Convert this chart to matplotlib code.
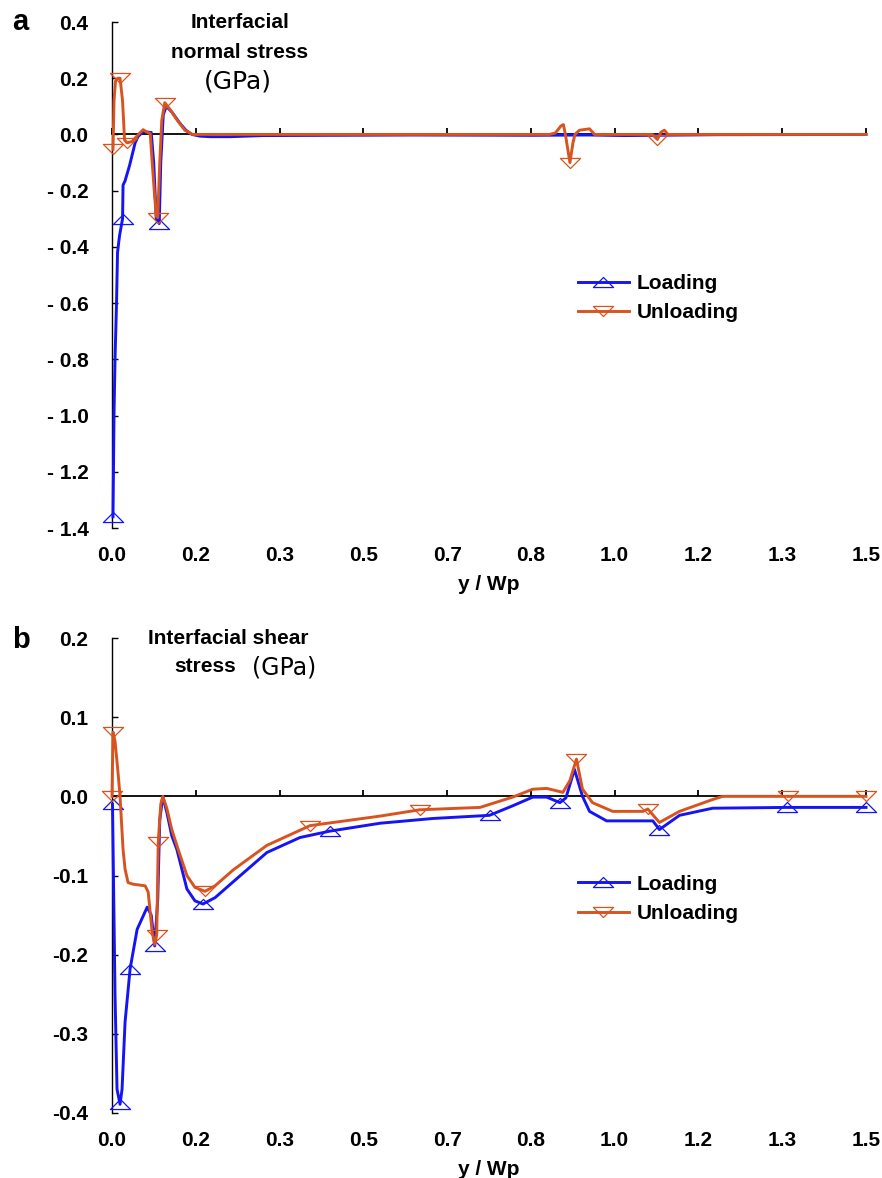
import numpy as np
import matplotlib
matplotlib.use('agg')
import matplotlib.pyplot as plt
from matplotlib.path import Path

plt.rcParams['font.family'] = ['Liberation Sans', 'DejaVu Sans']
plt.rcParams['font.weight'] = 'bold'

# ---- panel a: interfacial normal stress (GPa) ----
load_a_x = [0.002, 0.003, 0.004, 0.006, 0.009, 0.011, 0.015, 0.021, 0.022, 0.026,
            0.035, 0.046, 0.052, 0.062, 0.078, 0.083, 0.088, 0.094, 0.097, 0.102,
            0.108, 0.119, 0.135, 0.147, 0.159, 0.175, 0.195, 0.235, 0.30, 0.45,
            0.60, 0.84, 0.95, 1.02, 1.2, 1.5]
load_a_y = [-1.36, -1.18, -1.0, -0.8, -0.6, -0.42, -0.36, -0.30, -0.18, -0.165,
            -0.11, -0.03, -0.007, 0.01, 0.007, -0.1, -0.3, -0.317, -0.1, 0.07,
            0.1, 0.08, 0.04, 0.015, 0.0, -0.006, -0.008, -0.008, -0.004, -0.003,
            -0.002, -0.003, -0.002, -0.004, -0.001, 0.0]
load_a_marks = [0.002, 0.021, 0.094]

unload_a_x = [0.002, 0.004, 0.007, 0.012, 0.016, 0.021, 0.025, 0.030, 0.040, 0.050,
              0.058, 0.062, 0.068, 0.076, 0.080, 0.084, 0.088, 0.091, 0.095, 0.099,
              0.105, 0.115, 0.130, 0.145, 0.160, 0.40, 0.87, 0.882, 0.893, 0.898,
              0.902, 0.911, 0.917, 0.921, 0.930, 0.950, 0.960, 1.075, 1.085, 1.092,
              1.099, 1.106, 1.5]
unload_a_y = [-0.053, 0.12, 0.19, 0.2, 0.2, 0.12, -0.02, -0.03, -0.025, -0.005,
              0.01, 0.017, 0.01, 0.003, -0.1, -0.2, -0.29, -0.296, -0.1, 0.05,
              0.113, 0.09, 0.05, 0.015, 0.0, 0.0, 0.0, 0.005, 0.03, 0.035,
              0.0, -0.1, -0.03, 0.0, 0.015, 0.02, 0.0, 0.0, -0.018, 0.008,
              0.015, 0.0, 0.0]
unload_a_marks = [0.002, 0.016, 0.030, 0.091, 0.105, 0.911, 1.085]

# ---- panel b: interfacial shear stress (GPa) ----
load_b_x = [0.001, 0.006, 0.010, 0.016, 0.020, 0.026, 0.036, 0.050, 0.070, 0.078,
            0.085, 0.091, 0.095, 0.101, 0.109, 0.119, 0.129, 0.149, 0.165, 0.181,
            0.205, 0.241, 0.308, 0.374, 0.433, 0.533, 0.638, 0.751, 0.797, 0.837,
            0.865, 0.891, 0.903, 0.920, 0.936, 0.950, 0.984, 1.076, 1.089, 1.129,
            1.195, 1.342, 1.5]
load_b_y = [-0.010, -0.25, -0.37, -0.389, -0.37, -0.285, -0.218, -0.168, -0.140, -0.150,
            -0.189, -0.13, -0.03, 0.0, -0.02, -0.05, -0.067, -0.117, -0.132, -0.136,
            -0.128, -0.108, -0.071, -0.052, -0.044, -0.034, -0.028, -0.024, -0.012, -0.001,
            -0.001, -0.008, -0.002, 0.034, 0.0, -0.019, -0.031, -0.031, -0.042, -0.024,
            -0.015, -0.014, -0.014]
load_b_marks = [0.001, 0.016, 0.036, 0.085, 0.181, 0.433, 0.751, 0.891, 1.089, 1.342, 1.5]

unload_b_x = [0.000, 0.002, 0.006, 0.012, 0.016, 0.022, 0.026, 0.032, 0.042, 0.066,
              0.072, 0.080, 0.085, 0.089, 0.092, 0.097, 0.101, 0.109, 0.119, 0.129,
              0.149, 0.165, 0.185, 0.205, 0.241, 0.308, 0.394, 0.533, 0.612, 0.732,
              0.797, 0.837, 0.865, 0.897, 0.911, 0.924, 0.936, 0.956, 0.996, 1.056,
              1.066, 1.089, 1.129, 1.195, 1.215, 1.344, 1.5]
unload_b_y = [0.0, 0.081, 0.07, 0.03, 0.0, -0.067, -0.092, -0.109, -0.111, -0.113,
              -0.121, -0.172, -0.187, -0.175, -0.058, -0.01, 0.0, -0.015, -0.042, -0.062,
              -0.1, -0.115, -0.12, -0.113, -0.093, -0.062, -0.037, -0.025, -0.017, -0.014,
              -0.001, 0.009, 0.010, 0.005, 0.02, 0.047, 0.009, -0.008, -0.019, -0.019,
              -0.016, -0.033, -0.019, -0.004, 0.0, 0.0, 0.0]
unload_b_marks = [0.000, 0.002, 0.089, 0.092, 0.185, 0.394, 0.612, 0.924, 1.066, 1.344, 1.5]

x_ticks = np.linspace(0, 1.5, 10)
x_ticklabels = ['0.0', '0.2', '0.3', '0.5', '0.7', '0.8', '1.0', '1.2', '1.3', '1.5']
a_yticks = [0.4, 0.2, 0.0, -0.2, -0.4, -0.6, -0.8, -1.0, -1.2, -1.4]
a_yticklabels = ['0.4', '0.2', '0.0', '- 0.2', '- 0.4', '- 0.6', '- 0.8', '- 1.0', '- 1.2', '- 1.4']
b_yticks = [0.2, 0.1, 0.0, -0.1, -0.2, -0.3, -0.4]
b_yticklabels = ['0.2', '0.1', '0.0', '-0.1', '-0.2', '-0.3', '-0.4']

BLUE = '#1414F5'
ORANGE = '#D9531E'
FS = 15

# flattened open triangles like the Excel markers
tri_up = Path([(0, 0.5), (-1, -0.5), (1, -0.5), (0, 0.5)],
              [Path.MOVETO, Path.LINETO, Path.LINETO, Path.CLOSEPOLY])
tri_down = Path([(0, -0.5), (-1, 0.5), (1, 0.5), (0, -0.5)],
                [Path.MOVETO, Path.LINETO, Path.LINETO, Path.CLOSEPOLY])


def draw_series(ax, x, y, marks, color, marker, label):
    x = np.array(x)
    idx = np.flatnonzero(np.isin(x, marks))
    ax.plot(x, y, color=color, lw=2.1, marker=marker, markevery=list(idx),
            markersize=14.5, markerfacecolor='none', markeredgecolor=color,
            markeredgewidth=0.9, label=label, zorder=3, clip_on=False)


def style_axes(ax, ylim, yticks, yticklabels):
    ax.set_xlim(0, 1.5)
    ax.set_ylim(*ylim)
    for s in ['top', 'right']:
        ax.spines[s].set_visible(False)
    ax.spines['bottom'].set_position(('data', 0))
    ax.spines['bottom'].set_linewidth(1.3)
    ax.spines['left'].set_linewidth(1.0)
    ax.set_xticks(x_ticks)
    ax.tick_params(axis='x', direction='in', length=4, width=1.3, labelbottom=False)
    ax.set_yticks(yticks)
    ax.set_yticklabels(yticklabels, fontsize=FS, fontweight='bold')
    ax.tick_params(axis='y', direction='in', length=4, width=1.0, pad=17)

    sec = ax.secondary_xaxis('bottom')
    sec.set_xticks(x_ticks)
    sec.set_xticklabels(x_ticklabels, fontsize=FS, fontweight='bold')
    sec.tick_params(length=0, pad=13)
    sec.spines['bottom'].set_visible(False)
    sec.set_xlabel('y / Wp', fontsize=FS, fontweight='bold', labelpad=7)

    leg = ax.legend(loc='upper left', frameon=False, fontsize=FS,
                    handlelength=2.45, handletextpad=0.35, labelspacing=0.5,
                    borderpad=0, borderaxespad=0,
                    bbox_to_anchor=(0.618, 0.502))
    for t in leg.get_texts():
        t.set_fontweight('bold')


fig = plt.figure(figsize=(8.82, 11.78), dpi=100)
W, H = 882.0, 1178.0

ax1 = fig.add_axes([112 / W, 1 - 528 / H, 754 / W, 506 / H])
draw_series(ax1, load_a_x, load_a_y, load_a_marks, BLUE, tri_up, 'Loading')
draw_series(ax1, unload_a_x, unload_a_y, unload_a_marks, ORANGE, tri_down, 'Unloading')
style_axes(ax1, (-1.4, 0.4), a_yticks, a_yticklabels)

ax2 = fig.add_axes([112 / W, 1 - 1113 / H, 754 / W, 475 / H])
draw_series(ax2, load_b_x, load_b_y, load_b_marks, BLUE, tri_up, 'Loading')
draw_series(ax2, unload_b_x, unload_b_y, unload_b_marks, ORANGE, tri_down, 'Unloading')
style_axes(ax2, (-0.4, 0.2), b_yticks, b_yticklabels)

# panel letters and in-plot titles
fig.text(20 / W, 1 - 22 / H, 'a', fontsize=21, fontweight='bold', ha='center', va='center')
fig.text(21 / W, 1 - 640 / H, 'b', fontsize=21, fontweight='bold', ha='center', va='center')

fig.text(240 / W, 1 - 22 / H, 'Interfacial', fontsize=FS, fontweight='bold',
         ha='center', va='center')
fig.text(240 / W, 1 - 52 / H, 'normal stress', fontsize=FS, fontweight='bold',
         ha='center', va='center')
fig.text(238 / W, 1 - 82 / H, '(GPa)', fontsize=18, fontweight='normal',
         family='DejaVu Sans', ha='center', va='center')

fig.text(228 / W, 1 - 638 / H, 'Interfacial shear', fontsize=FS, fontweight='bold',
         ha='center', va='center')
fig.text(205 / W, 1 - 667 / H, 'stress', fontsize=FS, fontweight='bold',
         ha='center', va='center')
fig.text(284 / W, 1 - 667 / H, '(GPa)', fontsize=17, fontweight='normal',
         family='DejaVu Sans', ha='center', va='center')

fig.savefig('out.png', dpi=100)
